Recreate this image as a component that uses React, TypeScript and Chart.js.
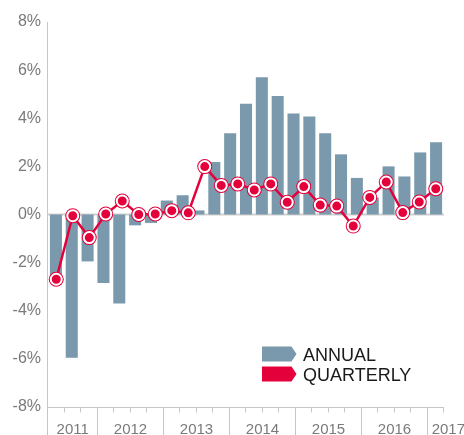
import React, { useEffect, useRef } from "react";
import { Chart, registerables } from "chart.js";

Chart.register(...registerables);

// Quarterly periods (line series)
const quarterLabels = [
  "Q2 2011", "Q3 2011", "Q4 2011",
  "Q1 2012", "Q2 2012", "Q3 2012", "Q4 2012",
  "Q1 2013", "Q2 2013", "Q3 2013", "Q4 2013",
  "Q1 2014", "Q2 2014", "Q3 2014", "Q4 2014",
  "Q1 2015", "Q2 2015", "Q3 2015", "Q4 2015",
  "Q1 2016", "Q2 2016", "Q3 2016", "Q4 2016",
  "Q1 2017",
];

// Quarterly growth (%)
const quarterlyValues = [
  -2.69, -0.05, -0.96, 0.02, 0.56, 0.0, 0.02, 0.16, 0.07, 1.99, 1.21, 1.27,
  1.02, 1.27, 0.51, 1.16, 0.39, 0.35, -0.48, 0.71, 1.35, 0.08, 0.52, 1.07,
];

// Annual periods (bar series)
const annualLabels = [
  "A01", "A02", "A03", "A04", "A05", "A06", "A07", "A08", "A09", "A10",
  "A11", "A12", "A13", "A14", "A15", "A16", "A17", "A18", "A19", "A20",
  "A21", "A22", "A23", "A24", "A25",
];

// Annual growth (%)
const annualValues = [
  -2.6, -5.95, -1.95, -2.85, -3.7, -0.45, -0.35, 0.58, 0.8, 0.17, 2.18, 3.38,
  4.6, 5.7, 4.92, 4.2, 4.07, 3.38, 2.5, 1.52, 0.7, 2.0, 1.58, 2.58, 3.0,
];

const yearLabels = ["2011", "2012", "2013", "2014", "2015", "2016", "2017"];

const seriesNames = ["ANNUAL", "QUARTERLY"];

const BAR_COLOR = "#7b99ac";
const RED = "#e4003b";
const AXIS = "#c6c6c6";
const FONT = "'Liberation Sans', Arial, sans-serif";

const decorPlugin = {
  id: "decor",
  beforeDatasetsDraw(chart: any) {
    const { ctx, chartArea, scales } = chart;
    const y0 = scales.y.getPixelForValue(0);
    ctx.save();
    ctx.strokeStyle = "#cfcfcf";
    ctx.lineWidth = 2;
    ctx.beginPath();
    ctx.moveTo(chartArea.left, y0);
    ctx.lineTo(chartArea.right, y0);
    ctx.stroke();
    ctx.restore();
  },
  afterDraw(chart: any) {
    const { ctx, chartArea, width, height } = chart;
    const { left, right, top, bottom } = chartArea;
    const n = quarterLabels.length;
    const step = (right - left) / n;
    ctx.save();
    ctx.strokeStyle = AXIS;
    ctx.lineWidth = 1;
    // y axis line
    const lx = Math.round(left) - 0.5;
    ctx.beginPath();
    ctx.moveTo(lx, top);
    ctx.lineTo(lx, height);
    ctx.stroke();
    // x axis line
    const by = Math.round(bottom) + 0.5;
    ctx.beginPath();
    ctx.moveTo(lx, by);
    ctx.lineTo(right, by);
    ctx.stroke();
    // ticks
    const yearStarts: number[] = [];
    for (let i = 1; i <= n; i++) {
      const px = Math.round(left + i * step) - 0.5;
      const isYear = i < n && quarterLabels[i].startsWith("Q1");
      if (isYear) yearStarts.push(left + i * step);
      ctx.beginPath();
      ctx.moveTo(px, by);
      ctx.lineTo(px, isYear ? height : by + 5);
      ctx.stroke();
    }
    // year labels
    ctx.fillStyle = "#7a7a7a";
    ctx.font = `15px ${FONT}`;
    ctx.textBaseline = "alphabetic";
    const bounds = [left, ...yearStarts, yearStarts[yearStarts.length - 1] + 4 * step];
    yearLabels.forEach((lab, i) => {
      const c = (bounds[i] + bounds[i + 1]) / 2;
      const w = ctx.measureText(lab).width;
      let sx = c - w / 2;
      if (sx + w > width) sx = width - w + 1;
      ctx.textAlign = "left";
      ctx.fillText(lab, sx, 434);
    });
    // legend
    const colors = [BAR_COLOR, RED];
    const lx0 = 262;
    const ly0 = 346.5;
    colors.forEach((col, i) => {
      const yy = ly0 + i * 20;
      ctx.fillStyle = col;
      ctx.beginPath();
      ctx.moveTo(lx0, yy);
      ctx.lineTo(lx0 + 29.5, yy);
      ctx.lineTo(lx0 + 34.5, yy + 7.5);
      ctx.lineTo(lx0 + 29.5, yy + 15);
      ctx.lineTo(lx0, yy + 15);
      ctx.closePath();
      ctx.fill();
      ctx.fillStyle = "#1a1a1a";
      ctx.font = `18px ${FONT}`;
      ctx.fillText(seriesNames[i], 303, yy + 14.5);
    });
    ctx.restore();
  },
};

export default function App() {
  const ref = useRef<HTMLCanvasElement | null>(null);
  useEffect(() => {
    if (!ref.current) return;
    const chart = new Chart(ref.current, {
      type: "bar",
      data: {
        labels: quarterLabels,
        datasets: [
          {
            type: "line",
            label: seriesNames[1] + " points",
            data: quarterlyValues,
            xAxisID: "x",
            showLine: false,
            pointRadius: 5.5,
            pointBorderWidth: 2,
            pointBorderColor: "#ffffff",
            pointBackgroundColor: RED,
            order: 1,
          } as any,
          {
            type: "line",
            label: seriesNames[1],
            data: quarterlyValues,
            xAxisID: "x",
            borderColor: RED,
            borderWidth: 2.5,
            pointRadius: 7.5,
            pointBorderWidth: 0,
            pointBackgroundColor: RED,
            order: 2,
          } as any,
          {
            type: "bar",
            label: seriesNames[0],
            data: annualValues,
            xAxisID: "xBar",
            backgroundColor: BAR_COLOR,
            grouped: false,
            barPercentage: 0.76,
            categoryPercentage: 1,
            order: 3,
          } as any,
        ],
      },
      options: {
        animation: false,
        responsive: false,
        devicePixelRatio: 1,
        layout: { padding: { top: 22, right: 20, bottom: 28, left: 0 } },
        plugins: { legend: { display: false }, tooltip: { enabled: false } },
        scales: {
          x: { type: "category", display: false, offset: true },
          xBar: { type: "category", labels: annualLabels, display: false, offset: true },
          y: {
            min: -8,
            max: 8,
            grid: { display: false, drawTicks: false },
            border: { display: false },
            ticks: {
              stepSize: 2,
              padding: 7,
              color: "#7a7a7a",
              font: { family: FONT, size: 16 },
              callback: (v: any) => `${v}%`,
            },
            afterFit: (s: any) => {
              s.width = 48;
            },
          },
        },
      },
      plugins: [decorPlugin],
    });
    return () => chart.destroy();
  }, []);
  return (
    <div style={{ position: "absolute", left: 0, top: 0, width: 464, height: 435 }}>
      <canvas ref={ref} width={464} height={435} style={{ display: "block" }} />
    </div>
  );
}
